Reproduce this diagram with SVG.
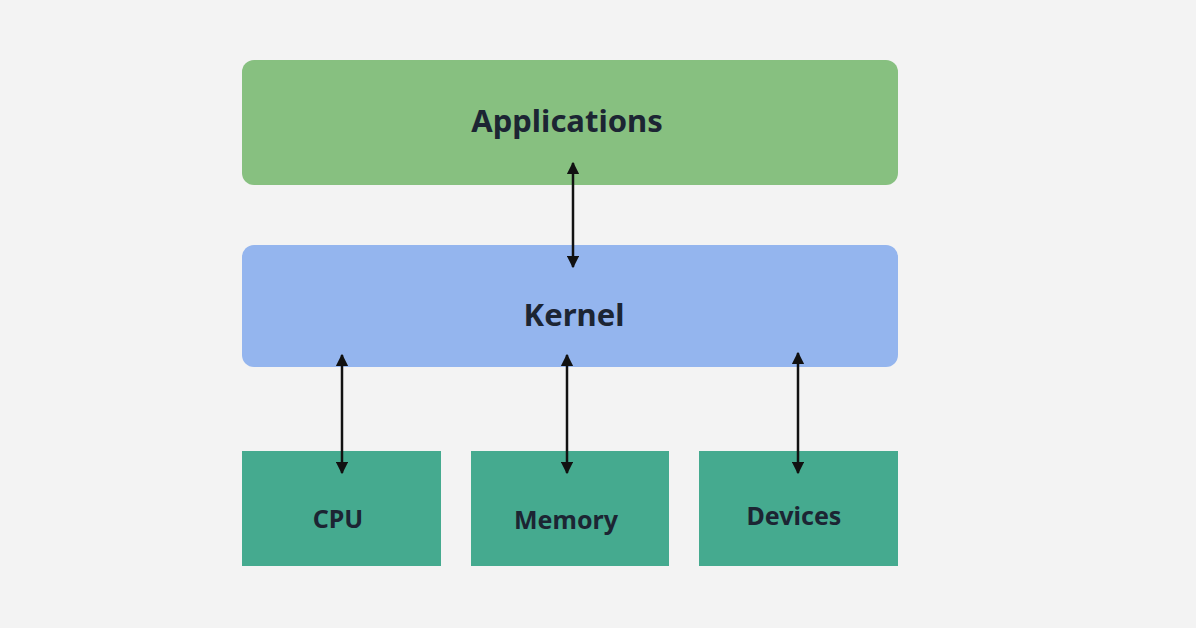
<svg xmlns="http://www.w3.org/2000/svg" width="1196" height="628" viewBox="0 0 1196 628">
<style>
.t{font-family:"Noto Sans","Open Sans",sans-serif;font-weight:bold;fill:#1c2533;text-anchor:middle}
.c{stroke:#111;stroke-width:2.5;fill:none;marker-start:url(#a);marker-end:url(#a)}
.hw{fill:#45aa8f}
</style>
<defs><marker id="a" viewBox="0 0 10 10" refX="9" refY="5" markerWidth="5" markerHeight="5" orient="auto-start-reverse" markerUnits="strokeWidth"><path d="M0,0L10,5L0,10z" fill="#111"/></marker></defs>
<rect width="1196" height="628" fill="#f3f3f3"/>
<g id="applications"><rect x="242" y="60" width="656" height="125" rx="12" fill="#87c080"/><text class="t" x="567" y="132" font-size="31">Applications</text></g>
<g id="kernel"><rect x="242" y="245" width="656" height="122" rx="12" fill="#94b5ee"/><text class="t" x="574" y="326" font-size="31">Kernel</text></g>
<g id="cpu"><rect class="hw" x="242" y="451" width="199" height="115"/><text class="t" x="338" y="528" font-size="25">CPU</text></g>
<g id="memory"><rect class="hw" x="471" y="451" width="198" height="115"/><text class="t" x="566" y="529" font-size="25">Memory</text></g>
<g id="devices"><rect class="hw" x="699" y="451" width="199" height="115"/><text class="t" x="794" y="525" font-size="25">Devices</text></g>
<g id="connectors">
<line class="c" x1="573" y1="163" x2="573" y2="267"/>
<line class="c" x1="342" y1="355" x2="342" y2="473"/>
<line class="c" x1="567" y1="355" x2="567" y2="473"/>
<line class="c" x1="798" y1="353" x2="798" y2="473"/>
</g>
</svg>
